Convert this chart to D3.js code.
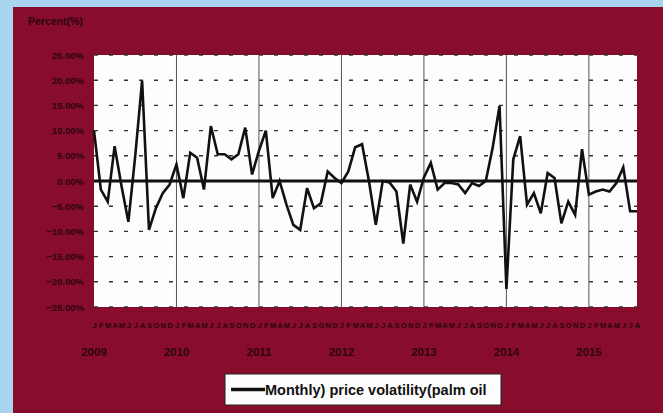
<!DOCTYPE html>
<html>
<head>
<meta charset="utf-8">
<script src="https://cdn.jsdelivr.net/npm/d3@7"></script>
<style>
  html, body { margin: 0; padding: 0; background: #a8d4ee; }
  svg { display: block; }
</style>
</head>
<body>
<svg id="fig" width="663" height="413"></svg>
<script>
// monthly palm oil price volatility, Jan 2009 .. Aug 2015 (percent)
var years = ['2009', '2010', '2011', '2012', '2013', '2014', '2015'];
var monthNames = ['J', 'F', 'M', 'A', 'M', 'J', 'J', 'A', 'S', 'O', 'N', 'D'];
var volatility = [
  10.0, -1.7, -4.1, 6.9, -1.0, -8.1, 5.0, 19.9, -9.7, -5.4, -2.4, -0.7,
  3.3, -3.4, 5.6, 4.6, -1.7, 10.9, 5.3, 5.3, 4.3, 5.3, 10.6, 1.3,
  6.0, 10.0, -3.4, 0.0, -4.7, -8.7, -9.7, -1.4, -5.4, -4.4, 1.9, 0.6,
  -0.4, 1.9, 6.7, 7.3, 0.0, -8.7, 0.0, -0.3, -2.1, -12.4, -0.7, -4.1,
  0.7, 3.6, -1.7, -0.4, -0.4, -0.7, -2.4, -0.4, -1.0, 0.0, 6.6, 14.9,
  -21.4, 4.3, 8.9, -4.7, -2.4, -6.4, 1.6, 0.6, -8.4, -4.1, -6.7, 6.3,
  -2.7, -2.1, -1.7, -2.1, -0.4, 2.7, -6.0, -6.0
];
var yTicks = [25, 20, 15, 10, 5, 0, -5, -10, -15, -20, -25];
var yTitle = 'Percent(%)';
var legendLabel = 'Monthly) price volatility(palm oil';

var fig = d3.select('#fig');
var font = 'Liberation Sans, Arial, sans-serif';
var inkColor = '#2a0510';

// categories: one per month, index-keyed so repeated initials stay unique
var categories = volatility.map(function(v, i) {
  return years[Math.floor(i / 12)] + '-' + (i % 12);
});

var plot = {left: 94, right: 637, top: 55, bottom: 307};

// crimson chart area
fig.append('rect')
  .attr('x', 13).attr('y', 7)
  .attr('width', 650).attr('height', 406)
  .attr('fill', '#880c2c');

fig.append('rect')
  .attr('x', plot.left).attr('y', plot.top)
  .attr('width', plot.right - plot.left)
  .attr('height', plot.bottom - plot.top)
  .attr('fill', '#fdfdfd');

var x = d3.scalePoint()
  .domain(categories)
  .range([plot.left, plot.right]);

var y = d3.scaleLinear()
  .domain([-25, 25])
  .range([plot.bottom, plot.top]);

// horizontal dashed gridlines
fig.append('g')
  .selectAll('line')
  .data(yTicks.filter(function(t) { return t !== 0; }))
  .enter()
  .append('line')
  .attr('x1', plot.left).attr('x2', plot.right)
  .attr('y1', function(t) { return y(t); })
  .attr('y2', function(t) { return y(t); })
  .attr('stroke', '#333')
  .attr('stroke-width', 1.4)
  .attr('stroke-dasharray', '4,11');

// vertical year gridlines at each January
var januaries = categories.filter(function(c, i) { return i % 12 === 0 && i > 0; });
fig.append('g')
  .selectAll('line')
  .data(januaries)
  .enter()
  .append('line')
  .attr('x1', function(c) { return x(c); })
  .attr('x2', function(c) { return x(c); })
  .attr('y1', plot.top).attr('y2', plot.bottom)
  .attr('stroke', '#555')
  .attr('stroke-width', 1);

// zero axis line
fig.append('line')
  .attr('x1', plot.left).attr('x2', plot.right)
  .attr('y1', y(0)).attr('y2', y(0))
  .attr('stroke', '#111')
  .attr('stroke-width', 3);

var line = d3.line()
  .x(function(d, i) { return x(categories[i]); })
  .y(function(d) { return y(d); });

fig.append('path')
  .datum(volatility)
  .attr('d', line)
  .attr('fill', 'none')
  .attr('stroke', '#111')
  .attr('stroke-width', 2.6)
  .attr('stroke-linejoin', 'miter');

// y axis labels
var yAxis = d3.axisLeft(y)
  .tickValues(yTicks)
  .tickSize(0)
  .tickPadding(10)
  .tickFormat(function(t) { return d3.format('.2f')(t) + '%'; });

var yg = fig.append('g')
  .attr('transform', 'translate(' + plot.left + ',0)')
  .call(yAxis);
yg.select('.domain').remove();
yg.selectAll('text')
  .attr('font-family', font)
  .attr('font-size', 9.5)
  .attr('font-weight', 'bold')
  .attr('fill', inkColor);

fig.append('text')
  .attr('x', 28).attr('y', 25)
  .attr('font-family', font)
  .attr('font-size', 10.5)
  .attr('font-weight', 'bold')
  .attr('fill', inkColor)
  .text(yTitle);

// month labels row
var xAxis = d3.axisBottom(x)
  .tickSize(0)
  .tickPadding(0)
  .tickFormat(function(c) { return monthNames[+c.split('-')[1]]; });

var xg = fig.append('g')
  .attr('transform', 'translate(0,' + (plot.bottom + 16) + ')')
  .call(xAxis);
xg.select('.domain').remove();
xg.selectAll('text')
  .attr('font-family', font)
  .attr('font-size', 7.5)
  .attr('font-weight', 'bold')
  .attr('fill', inkColor);

// year labels row, centred on each January
fig.append('g')
  .selectAll('text')
  .data(years)
  .enter()
  .append('text')
  .attr('x', function(yr) { return x(yr + '-0'); })
  .attr('y', 356)
  .attr('text-anchor', 'middle')
  .attr('font-family', font)
  .attr('font-size', 11.5)
  .attr('font-weight', 'bold')
  .attr('fill', inkColor)
  .text(function(yr) { return yr; });

// legend
var legend = fig.append('g').attr('transform', 'translate(225,374)');
legend.append('rect')
  .attr('width', 276).attr('height', 31)
  .attr('fill', '#fdfdfd')
  .attr('stroke', '#222')
  .attr('stroke-width', 1);
legend.append('line')
  .attr('x1', 6).attr('x2', 40)
  .attr('y1', 15.5).attr('y2', 15.5)
  .attr('stroke', '#111')
  .attr('stroke-width', 3.5);
legend.append('text')
  .attr('x', 40).attr('y', 21)
  .attr('font-family', font)
  .attr('font-size', 14.5)
  .attr('font-weight', 'bold')
  .attr('fill', '#111')
  .text(legendLabel);
</script>
</body>
</html>
